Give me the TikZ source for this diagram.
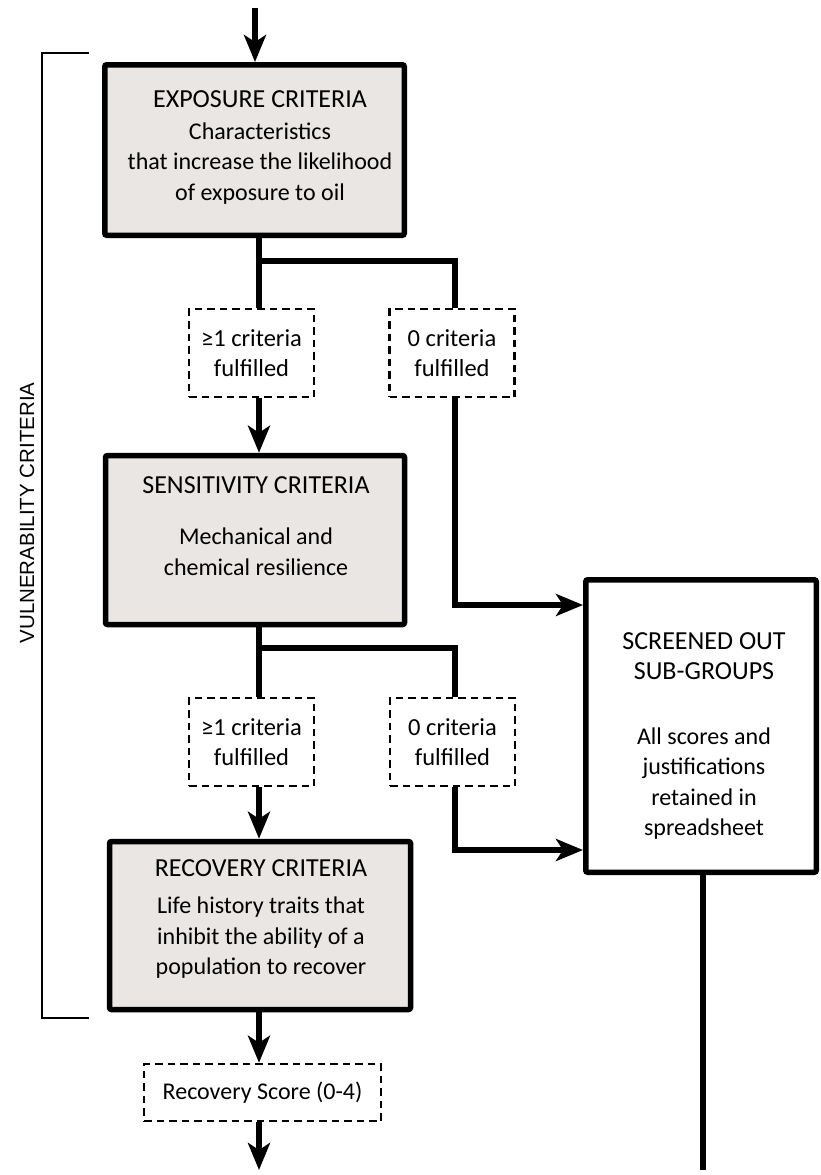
\documentclass[tikz,border=0pt]{standalone}
\usepackage{fontspec}
\setmainfont{Carlito}
\newfontfamily\vulnfont{Liberation Sans}
\usetikzlibrary{arrows.meta}
\definecolor{boxgray}{RGB}{233,230,228}
\newcommand{\boxtitle}[1]{{\fontsize{26}{30.5}\selectfont #1}}
\begin{document}
\begin{tikzpicture}[x=1pt,y=-1pt,
  critbox/.style={draw, line width=5.5pt, fill=boxgray, rounded corners=2pt, inner sep=0pt},
  outbox/.style={draw, line width=5.5pt, fill=white, rounded corners=2pt, inner sep=0pt},
  dashbox/.style={draw, line width=2.5pt, dash pattern=on 7.5pt off 5pt, inner sep=0pt, align=center, font=\fontsize{24.5}{30}\selectfont},
  txt/.style={align=center, font=\fontsize{24}{30.5}\selectfont, inner sep=0pt},
  flow/.style={line width=6pt},
  flowarrow/.style={line width=6pt, -{Stealth[length=27pt,width=22pt,inset=7pt]}},
  bracket/.style={line width=2pt}]
\useasboundingbox (0,0) rectangle (821,1175);

% main boxes
\node[critbox, minimum width=299.5pt, minimum height=170.5pt] (exp) at (254.5,150) {};
\node[txt] (expT) at (260,147) {\boxtitle{EXPOSURE CRITERIA}\\[1.5pt]Characteristics\\that increase the likelihood\\of exposure to oil};

\node[critbox, minimum width=299pt, minimum height=169pt] (sens) at (255,540) {};
\node[txt] (sensT) at (256,526) {\boxtitle{SENSITIVITY CRITERIA}\\[21pt]Mechanical and\\chemical resilience};

\node[critbox, minimum width=301pt, minimum height=168pt] (rec) at (260,925.5) {};
\node[txt] (recT) at (261,919) {\boxtitle{RECOVERY CRITERIA}\\[7pt]Life history traits that\\inhibit the ability of a\\population to recover};

\node[outbox, minimum width=230.5pt, minimum height=292.5pt] (scr) at (701,726) {};
\node[txt] (scrT) at (704,736) {\boxtitle{SCREENED OUT}\\\boxtitle{SUB-GROUPS}\\[34pt]All scores and\\justifications\\retained in\\spreadsheet};

% dashed boxes
\node[dashbox, minimum width=125pt, minimum height=88pt] (d1) at (251.5,353) {≥1 criteria\\fulfilled};
\node[dashbox, minimum width=125pt, minimum height=88pt] (d2) at (452,353) {0 criteria\\fulfilled};
\node[dashbox, minimum width=125pt, minimum height=88pt] (d3) at (251.5,742) {≥1 criteria\\fulfilled};
\node[dashbox, minimum width=125pt, minimum height=88pt] (d4) at (452.5,742) {0 criteria\\fulfilled};
\node[dashbox, minimum width=237pt, minimum height=57pt, font=\fontsize{24}{30}\selectfont] (rs) at (262.5,1092.5) {Recovery Score (0-4)};

% bracket label
\node[rotate=90, inner sep=0pt, font=\vulnfont\fontsize{20.5}{24}\selectfont] (vuln) at (27,513) {VULNERABILITY CRITERIA};

% helper coordinates
\coordinate (top) at (255,8);
\coordinate (spine) at (259,0);
\coordinate (rt) at (455,0);
\coordinate (split1) at (0,261);
\coordinate (split2) at (0,648);
\coordinate (in1) at (0,605);
\coordinate (in2) at (0,850);
\coordinate (end1) at (259,1170);
\coordinate (end2) at (703,1170);
\coordinate (bt) at (89,53);
\coordinate (bb) at (89,1018);
\coordinate (bl) at (42,0);

% connectors
\draw[flowarrow] (top) -- (exp.north -| top);
\draw[flow] (exp.south -| spine) -- (d1.north -| spine);
\draw[flow] (spine |- split1) -| (d2.north -| rt);
\draw[flowarrow] (d1.south -| spine) -- (sens.north -| spine);
\draw[flowarrow] (d2.south -| rt) |- (scr.west |- in1);

\draw[flow] (sens.south -| spine) -- (d3.north -| spine);
\draw[flow] (spine |- split2) -| (d4.north -| rt);
\draw[flowarrow] (d3.south -| spine) -- (rec.north -| spine);
\draw[flowarrow] (d4.south -| rt) |- (scr.west |- in2);

\draw[flowarrow] (rec.south -| spine) -- (rs.north -| spine);
\draw[flowarrow] (rs.south -| spine) -- (end1);
\draw[flow] (scr.south -| end2) -- (end2);

% bracket
\draw[bracket] (bt) -- (bl |- bt) -- (bl |- bb) -- (bb);
\end{tikzpicture}
\end{document}
